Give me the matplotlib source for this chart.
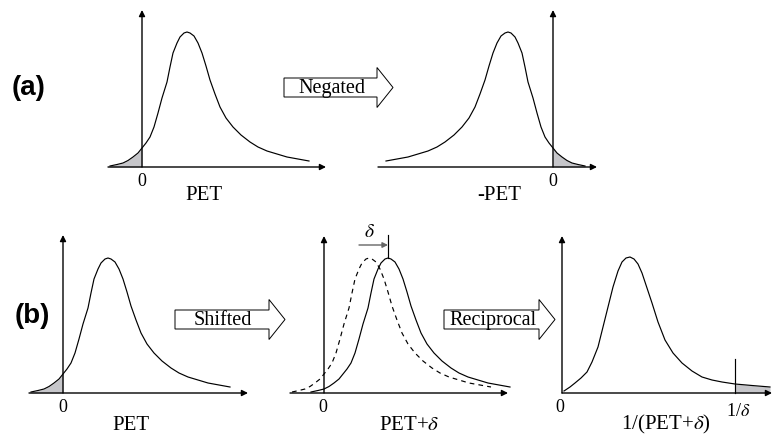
import matplotlib
matplotlib.use("agg")
import matplotlib.pyplot as plt
from matplotlib.patches import FancyArrow
import numpy as np

plt.rcParams['font.family'] = ['Liberation Serif', 'DejaVu Serif']
plt.rcParams['mathtext.fontset'] = 'stix'

# skewed PET density, x relative to zero (one unit ~ one pixel)
PET_X = np.array([-32, -25, -19, -14, -9, -4, 0, 4, 8, 12, 16, 20, 25, 28, 31, 35, 38, 42,
                  45, 48, 52, 56, 60, 64, 68, 73, 78, 84, 91, 99, 108, 116, 125, 135, 145,
                  156, 167])
PET_Y = np.array([1, 2.5, 4, 6.5, 10, 14, 19, 24, 30, 40, 54, 69, 85, 100, 114, 124, 130, 134,
                  135, 134, 131, 124, 114, 101, 87, 73, 60, 49, 40, 32, 25, 20, 16, 13, 10,
                  8, 6])

# density of the reciprocal 1/(PET+delta)
RECIP_X = np.array([2, 8, 13, 19, 25, 30, 36, 41, 46, 51, 56, 60, 64, 68, 72, 76, 80, 85, 90,
                    96, 103, 111, 120, 130, 140, 150, 160, 173, 190, 208])
RECIP_Y = np.array([2, 6, 10, 15, 21, 31, 46, 66, 86, 106, 122, 131, 135, 136, 134, 129, 120,
                    105, 90, 71, 53, 40, 30, 22, 16, 13, 11, 9, 7.5, 6])

DELTA = 19
INV_DELTA = 173

W, H = 773, 437
SHADE = '#c6c6ca'
LW = 0.85

fig = plt.figure(figsize=(W / 100, H / 100), dpi=100)
over = fig.add_axes([0, 0, 1, 1])
over.set_xlim(0, W)
over.set_ylim(H, 0)
over.axis('off')


def panel(ox, oy, x0, x1, y0=-8, y1=162):
    ax = fig.add_axes([(ox + x0) / W, (H - oy + y0) / H, (x1 - x0) / W, (y1 - y0) / H])
    ax.set_xlim(x0, x1)
    ax.set_ylim(y0, y1)
    ax.axis('off')
    ax.patch.set_alpha(0)
    return ax


def axes_arrows(ax, xstart, xtip, ytip):
    ap = dict(arrowstyle='-|>', lw=1.0, color='k', mutation_scale=9, shrinkA=0, shrinkB=0)
    ax.annotate('', xy=(xtip, 0), xytext=(xstart, 0), arrowprops=ap)
    ax.annotate('', xy=(0, ytip), xytext=(0, 0), arrowprops=ap)


def block_arrow(x, y, length, label):
    arr = FancyArrow(x, y, length, 0, width=19, head_width=40, head_length=16,
                     length_includes_head=True, facecolor='white', edgecolor='k', lw=0.7)
    over.add_patch(arr)
    over.text(x + (length - 16) / 2 + 1, y + 1, label, fontsize=14.5, ha='center', va='center')


# (a) left: PET
ax = panel(142, 167, -40, 190)
axes_arrows(ax, -34, 184, 157)
ax.plot(PET_X, PET_Y, color='k', lw=LW)
m = PET_X <= 0
ax.fill_between(PET_X[m], 0, PET_Y[m], color=SHADE, lw=0)

# (a) right: -PET
ax = panel(553, 167, -180, 50)
axes_arrows(ax, -175, 44, 157)
ax.plot(-PET_X, PET_Y, color='k', lw=LW)
ax.fill_between(-PET_X[m][::-1], 0, PET_Y[m][::-1], color=SHADE, lw=0)

# (b) left: PET
ax = panel(63, 393, -40, 190)
axes_arrows(ax, -34, 185, 158)
ax.plot(PET_X, PET_Y, color='k', lw=LW)
ax.fill_between(PET_X[m], 0, PET_Y[m], color=SHADE, lw=0)

# (b) middle: PET + delta
ax = panel(324, 393, -40, 190)
axes_arrows(ax, -34, 184, 157)
ax.plot(PET_X, PET_Y, color='k', lw=LW, ls=(0, (4, 3.5)))
ax.plot(PET_X + DELTA, PET_Y, color='k', lw=LW)
peak = PET_X[np.argmax(PET_Y)] + DELTA
ax.plot([peak, peak], [PET_Y.max(), PET_Y.max() + 23], color='k', lw=LW)
ax.annotate('', xy=(peak, PET_Y.max() + 13), xytext=(peak - 29, PET_Y.max() + 13),
            arrowprops=dict(arrowstyle='-|>', lw=1.0, color='0.4', mutation_scale=8,
                            shrinkA=0, shrinkB=0))
ax.text(peak - 19, PET_Y.max() + 25, r'$\delta$', fontsize=14, ha='center', va='center')

# (b) right: 1/(PET + delta)
ax = panel(562, 393, -5, 211)
axes_arrows(ax, 0, 210, 157)
ax.plot(RECIP_X, RECIP_Y, color='k', lw=LW)
r = RECIP_X >= INV_DELTA
ax.fill_between(RECIP_X[r], 0, RECIP_Y[r], color=SHADE, lw=0)
ax.plot([INV_DELTA, INV_DELTA], [0, 34], color='k', lw=LW)

# transformation arrows
block_arrow(284, 87.5, 109, 'Negated')
block_arrow(175, 319.5, 110, 'Shifted')
block_arrow(444, 319.5, 111, 'Reciprocal')

# labels
over.text(29, 88, '(a)', family='Liberation Sans', weight='bold', fontsize=20,
          ha='center', va='center')
over.text(32, 316, '(b)', family='Liberation Sans', weight='bold', fontsize=20,
          ha='center', va='center')

for x, y in [(142, 181), (553, 181), (63, 407), (323, 407), (560, 407)]:
    over.text(x, y, '0', fontsize=13, ha='center', va='center')

over.text(204, 196, 'PET', fontsize=15, ha='center', va='center')
over.text(499, 196, '-PET', fontsize=15, ha='center', va='center')
over.text(131, 426, 'PET', fontsize=15, ha='center', va='center')
over.text(409, 426, r'PET+$\delta$', fontsize=15, ha='center', va='center')
over.text(666, 424, r'1/(PET+$\delta$)', fontsize=15, ha='center', va='center')
over.text(738, 411, r'1/$\delta$', fontsize=13, ha='center', va='center')

fig.savefig('out.png', dpi=100)
